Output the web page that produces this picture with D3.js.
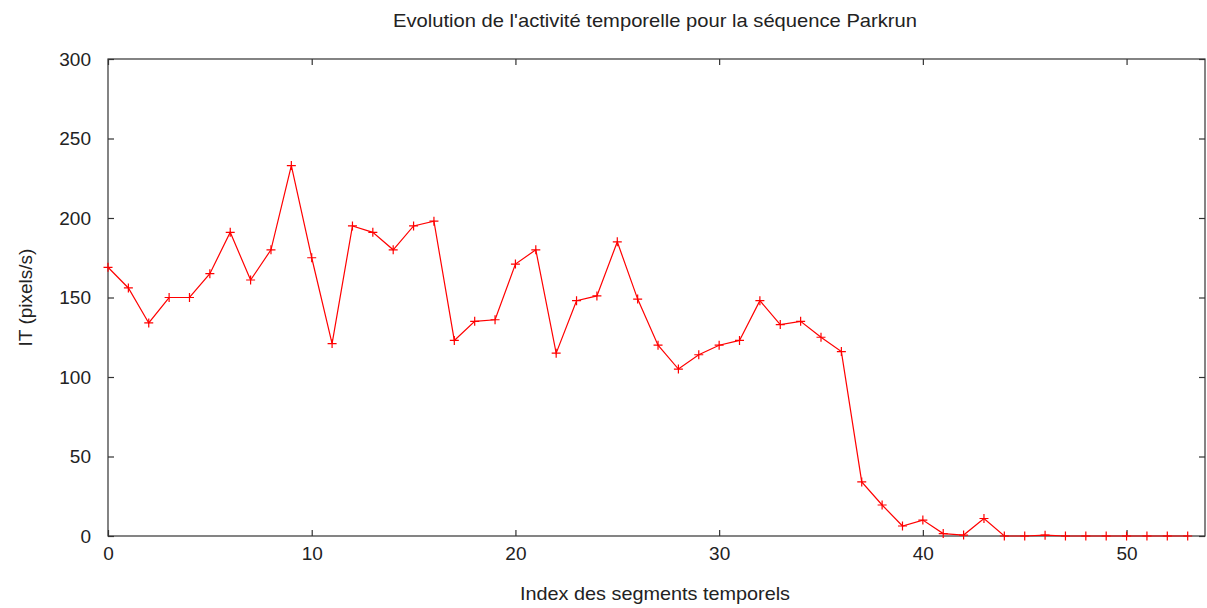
<!DOCTYPE html>
<html><head><meta charset="utf-8">
<script src="https://cdn.jsdelivr.net/npm/d3@7"></script>
<style>body{margin:0;background:#fff}svg{display:block}text{font-family:"Liberation Sans",Arial,sans-serif;fill:#222}</style>
</head><body>
<script>
const title = "Evolution de l'activité temporelle pour la séquence Parkrun";
const xLabel = "Index des segments temporels";
const yLabel = "IT (pixels/s)";
const indices = d3.range(0, 54);
const values = [169,156,134,150,150,165,191,161,180,233,
                175,121,195,191,180,195,198,123,135,136,
                171,180,115,148,151,185,149,120,105,114,
                120,123,148,133,135,125,116,34,19.5,6.3,
                10,1.5,0.6,11,0,0,0.5,0,0,0,
                0,0,0,0];
const xTicks = [0,10,20,30,40,50];
const yTicks = [0,50,100,150,200,250,300];

const W = 1207, H = 608;
const m = {left:108, right:2, top:59, bottom:72};
const svg = d3.select("body").append("svg").attr("width",W).attr("height",H);
const x = d3.scaleLinear().domain([0,53.85]).range([m.left, W-m.right]);
const y = d3.scaleLinear().domain([0,300]).range([H-m.bottom, m.top]);

const axisColor = "#333";
const tl = 6;
const fs = "19px";
const g = svg.append("g");
g.append("rect").attr("x",x(0)).attr("y",y(300)).attr("width",x.range()[1]-x(0)).attr("height",y(0)-y(300))
  .attr("fill","none").attr("stroke",axisColor).attr("stroke-width",1.2);

const ax = g.append("g").attr("transform",`translate(0,${y(0)})`)
  .call(d3.axisBottom(x).tickValues(xTicks).tickSizeInner(-tl).tickSizeOuter(0).tickPadding(11));
const axTop = g.append("g").attr("transform",`translate(0,${y(300)})`)
  .call(d3.axisTop(x).tickValues(xTicks).tickSizeInner(-tl).tickSizeOuter(0).tickFormat(""));
const ay = g.append("g").attr("transform",`translate(${x(0)},0)`)
  .call(d3.axisLeft(y).tickValues(yTicks).tickSizeInner(-tl).tickSizeOuter(0).tickPadding(17));
const ayR = g.append("g").attr("transform",`translate(${x.range()[1]},0)`)
  .call(d3.axisRight(y).tickValues(yTicks).tickSizeInner(-tl).tickSizeOuter(0).tickFormat(""));
[ax,axTop,ay,ayR].forEach(a=>{
  a.select(".domain").remove();
  a.selectAll("line").attr("stroke",axisColor).attr("stroke-width",1.2);
  a.selectAll("text").style("font-family",'"Liberation Sans",Arial,sans-serif').style("font-size",fs).attr("fill","#222");
});

const line = d3.line().x((d,i)=>x(indices[i])).y(d=>y(d));
svg.append("path").datum(values).attr("d",line).attr("fill","none").attr("stroke","#ff0000").attr("stroke-width",1.2);
const s = 4.5;
svg.append("g").selectAll("path").data(values).join("path")
  .attr("d",(d,i)=>{const cx=x(indices[i]), cy=y(d);return `M${cx-s},${cy}H${cx+s}M${cx},${cy-s}V${cy+s}`;})
  .attr("stroke","#ff0000").attr("stroke-width",1.2).attr("fill","none");

svg.append("text").attr("x",655).attr("y",27).attr("text-anchor","middle").style("font-size",fs)
  .attr("textLength",524).attr("lengthAdjust","spacingAndGlyphs").text(title);
svg.append("text").attr("x",655).attr("y",600).attr("text-anchor","middle").style("font-size",fs)
  .attr("textLength",270).attr("lengthAdjust","spacingAndGlyphs").text(xLabel);
svg.append("text").attr("transform",`translate(32,${(y(0)+y(300))/2}) rotate(-90)`).attr("text-anchor","middle").style("font-size",fs).text(yLabel);
</script>
</body></html>
